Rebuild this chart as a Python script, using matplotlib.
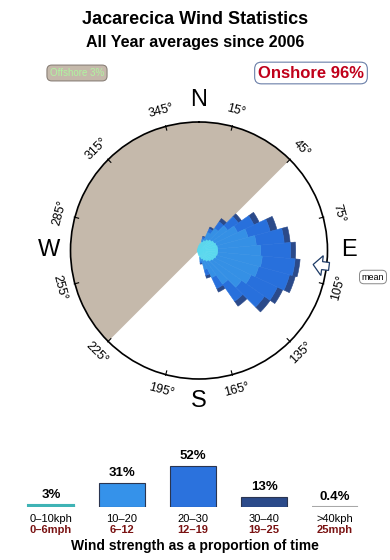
import numpy as np
import matplotlib
matplotlib.use('Agg')
import matplotlib.pyplot as plt
from matplotlib.patches import Polygon

plt.rcParams['font.family'] = ['Liberation Sans', 'DejaVu Sans']

# wind rose data: bearing of each 10 deg sector, % of time per speed class
bearings = np.arange(0, 360, 10)
calm_pct = [0.49, 0.67, 0.87, 1.09, 1.30, 1.49, 1.65, 1.77, 1.85, 1.87,
            1.85, 1.77, 1.65, 1.49, 1.30, 1.09, 0.87, 0.67, 0.49, 0.37,
            0.28, 0.22, 0.19, 0.16, 0.15, 0.14, 0.13, 0.13, 0.13, 0.14,
            0.15, 0.16, 0.19, 0.22, 0.28, 0.37]
rose_dirs = [20, 30, 40, 50, 60, 70, 80, 90, 100, 110, 120, 130, 140, 150, 160, 170]
pct_10_20 = [0.3, 0.9, 1.4, 2.0, 2.6, 3.3, 3.9, 4.3, 4.5, 4.4, 4.1, 3.7, 2.8, 1.9, 1.1, 0.4]
pct_20_30 = [0.2, 0.4, 0.8, 1.3, 1.8, 2.3, 2.8, 3.0, 3.3, 3.2, 2.9, 2.8, 2.1, 1.2, 0.6, 0.2]
pct_30_40 = [0.1, 0.2, 0.4, 0.4, 0.6, 0.7, 0.6, 0.5, 0.5, 0.6, 0.6, 0.7, 0.6, 0.4, 0.3, 0.1]
mean_dir = 97
offshore_from, offshore_to = 225, 405

# strength histogram
classes = ['0\u201310kph', '10\u201320', '20\u201330', '30\u201340', '>40kph']
classes_mph = ['0\u20136mph', '6\u201312', '12\u201319', '19\u201325', '25mph']
class_pct = [3, 31, 52, 13, 0.4]
class_lbl = ['3%', '31%', '52%', '13%', '0.4%']
class_col = ['#3fb3b5', '#3592ea', '#2b72dd', '#2b4a8a', '#a8a8a8']

tick_dirs = [15, 45, 75, 105, 135, 165, 195, 225, 255, 285, 315, 345]

W, H = 390, 560
fig = plt.figure(figsize=(W / 100, H / 100), dpi=100)

fig.text(0.5, 1 - 19 / H, 'Jacarecica Wind Statistics', ha='center', va='center',
         fontsize=13, fontweight='bold')
fig.text(0.5, 1 - 42 / H, 'All Year averages since 2006', ha='center', va='center',
         fontsize=11.5, fontweight='bold')

fig.text(77 / W, 1 - 73 / H, 'Offshore 3%', ha='center', va='center', fontsize=7,
         color='#b0f5a0',
         bbox=dict(boxstyle='round,pad=0.3,rounding_size=0.5', fc='#c5b9ab', ec='#8a8078', lw=0.8))
fig.text(311 / W, 1 - 73 / H, 'Onshore 96%', ha='center', va='center', fontsize=12,
         fontweight='bold', color='#c0001a',
         bbox=dict(boxstyle='round,pad=0.2,rounding_size=0.4', fc='white', ec='#6a7fa8', lw=0.8))

# ---- rose ----
cx, cy, R = 199, 250.5, 128.5
RMAX = 12.85
ax = fig.add_axes([(cx - R) / W, (H - cy - R) / H, 2 * R / W, 2 * R / H], projection='polar')
ax.set_theta_zero_location('N')
ax.set_theta_direction(-1)
ax.set_ylim(0, RMAX)
ax.grid(False)
ax.set_xticks([])
ax.set_yticks([])
ax.spines['polar'].set_linewidth(1.2)

span = np.radians(offshore_to - offshore_from)
ax.bar(np.radians((offshore_from + offshore_to) / 2), RMAX, width=span,
       color='#c5b9ab', edgecolor='none', zorder=1)

w = np.radians(10)
calm_by_dir = dict(zip(bearings, calm_pct))
base = np.array([calm_by_dir[d] for d in rose_dirs])
th = np.radians(rose_dirs)
b1 = base + np.array(pct_10_20)
b2 = b1 + np.array(pct_20_30)
ax.bar(th, pct_30_40, width=w, bottom=b2, color='#2b4a8a', edgecolor='#2b4a8a', lw=0.4, zorder=2)
ax.bar(th, pct_20_30, width=w, bottom=b1, color='#2870dc', edgecolor='#2870dc', lw=0.4, zorder=3)
ax.bar(th, pct_10_20, width=w, bottom=base, color='#3590e5', edgecolor='#3590e5', lw=0.4, zorder=4)
ax.bar(np.radians(bearings), calm_pct, width=w, color='#5ad8ee', edgecolor='#5ad8ee', lw=0.4,
       zorder=5)

for d in tick_dirs:
    t = np.radians(d)
    ax.plot([t, t], [RMAX * 0.97, RMAX * 1.005], color='black', lw=0.8, clip_on=False, zorder=6)
    rot = (-d + 90) % 180 - 90
    ax.text(t, RMAX * 1.125, f'{d}\u00b0', rotation=rot, ha='center', va='center',
            fontsize=9, rotation_mode='anchor', clip_on=False)

for lab, d in [('N', 0), ('E', 90), ('S', 180), ('W', 270)]:
    ax.text(np.radians(d), RMAX * 1.17, lab, ha='center', va='center', fontsize=17,
            clip_on=False)

# mean direction arrow, drawn in a pixel-coordinate overlay
ov = fig.add_axes([0, 0, 1, 1], facecolor='none')
ov.set_xlim(0, W)
ov.set_ylim(H, 0)
ov.axis('off')
t = np.radians(mean_dir)
ur = np.array([np.sin(t), -np.cos(t)])
up = np.array([np.cos(t), np.sin(t)])
c = np.array([cx, cy])
shape = [(115, 0), (124, 10), (124, 4), (131, 4), (131, -4), (124, -4), (124, -10)]
pts = [c + r * ur + s * up for r, s in shape]
ov.add_patch(Polygon(pts, closed=True, fc='white', ec='#1d3a66', lw=0.9, zorder=7))
ov.text(373, 277, 'mean', ha='center', va='center', fontsize=6.5,
        bbox=dict(boxstyle='round,pad=0.25,rounding_size=0.5', fc='white', ec='#888888', lw=0.7))

# ---- strength bars ----
px_per_pct = 0.79
x0, pitch = 51, 71
base_y = 507
bx = fig.add_axes([(x0 - pitch / 2) / W, (H - base_y) / H, 5 * pitch / W, 60 * px_per_pct / H])
bx.set_xlim(-0.5, 4.5)
bx.set_ylim(0, 60)
bx.axis('off')
pos = np.arange(len(classes))
bx.bar(pos, class_pct, width=0.634, color=class_col, edgecolor='#2a3550', lw=0.8)
bx.bar([0, 4], [class_pct[0], class_pct[4]], width=0.634, color=[class_col[0], class_col[4]],
       edgecolor=[class_col[0], class_col[4]], lw=1.5)
for i in range(len(classes)):
    bx.annotate(class_lbl[i], (i, class_pct[i]), xytext=(0, 7), textcoords='offset points',
                ha='center', va='center', fontsize=9.5, fontweight='bold', annotation_clip=False)
    bx.annotate(classes[i], (i, 0), xytext=(0, -8.3), textcoords='offset points',
                ha='center', va='center', fontsize=8, annotation_clip=False)
    bx.annotate(classes_mph[i], (i, 0), xytext=(0, -16.5), textcoords='offset points',
                ha='center', va='center', fontsize=8, fontweight='bold', color='#7a1212',
                annotation_clip=False)

fig.text(0.5, 1 - 546 / H, 'Wind strength as a proportion of time', ha='center', va='center',
         fontsize=10, fontweight='bold')

fig.savefig('out.png', dpi=100)
